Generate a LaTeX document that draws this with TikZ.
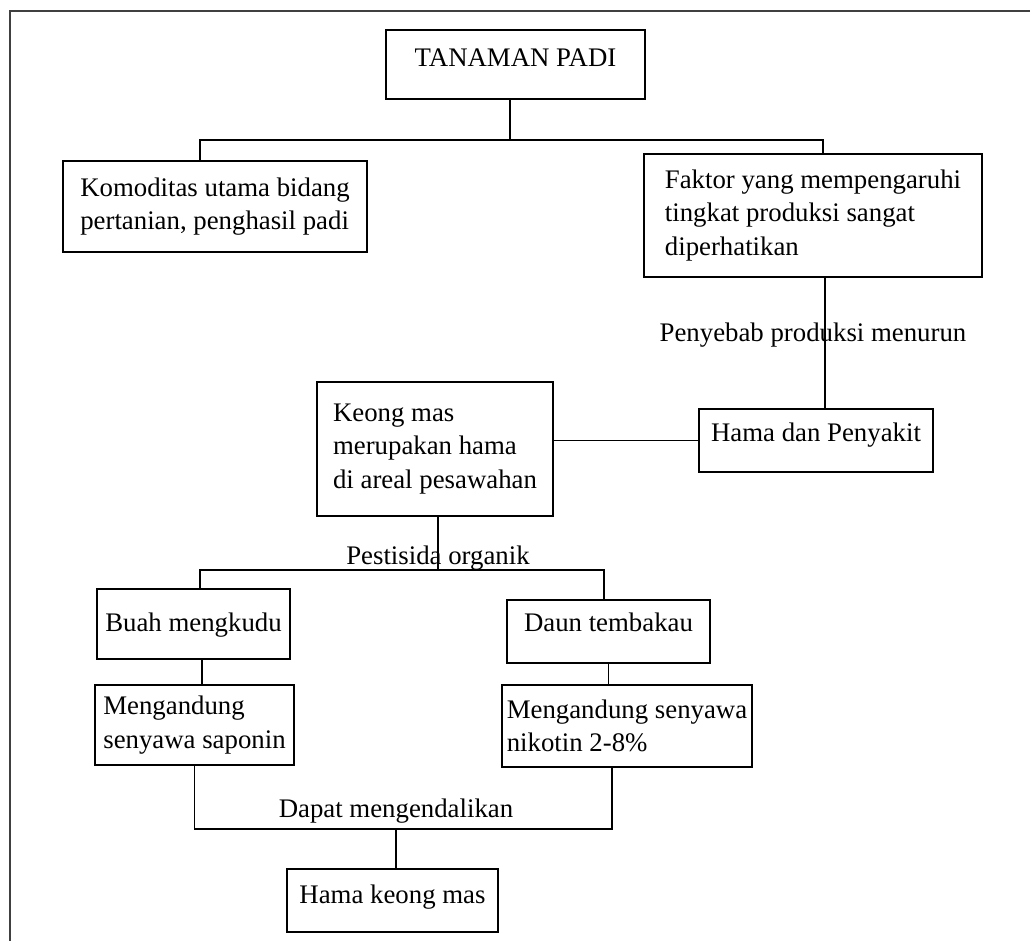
\documentclass[tikz,border=0pt]{standalone}
\usepackage{fontspec}
\setmainfont{Liberation Serif}
\usetikzlibrary{positioning}
\newcommand{\teks}{\fontsize{26.8}{33.5}\selectfont}

\begin{document}
\begin{tikzpicture}[x=1pt, y=-1pt,
    kotak/.style={draw, line width=1.4pt, align=left, inner sep=0pt, font=\teks},
    ket/.style={inner sep=0pt, font=\teks},
    garis/.style={line width=1.2pt},
  ]
  \useasboundingbox (0,0) rectangle (1030,941);
  \draw[black!75, line width=1.6pt] (1030,11) -- (10,11) -- (10,941);

  % kotak-kotak
  \node[kotak, minimum width=259pt, text height=37pt, text depth=32pt] (padi) at (515.5,64.5) {TANAMAN PADI};
  \node[kotak, minimum width=304pt, minimum height=91pt] (komoditas) at (215,206.5) {Komoditas utama bidang\\pertanian, penghasil padi};
  \node[kotak, minimum width=338pt, minimum height=123pt] (faktor) at (813,215.5) {Faktor yang mempengaruhi\\tingkat produksi sangat\\diperhatikan};
  \node[kotak, minimum width=234pt, text height=32pt, text depth=31pt] (hama) at (816,440.5) {Hama dan Penyakit};
  \node[kotak, minimum width=236pt, minimum height=134pt] (keong) at (435,449) {Keong mas\\merupakan hama\\di areal pesawahan};
  \node[kotak, minimum width=193pt, text height=42pt, text depth=28pt] (buah) at (193.5,624) {Buah mengkudu};
  \node[kotak, minimum width=203pt, text height=31pt, text depth=32pt] (daun) at (608.5,631.5) {Daun tembakau};
  \node[kotak, minimum width=199pt, minimum height=80pt] (saponin) at (194.5,725) {Mengandung\\senyawa saponin};
  \node[kotak, minimum width=250pt, minimum height=82pt] (nikotin) at (627,726) {Mengandung senyawa\\nikotin 2-8\%};
  \node[kotak, minimum width=211pt, text height=34pt, text depth=29pt] (sasaran) at (392.5,900.5) {Hama keong mas};

  \coordinate (cabang1) at (510,140);
  \coordinate (cabang2) at (438,570);
  \coordinate (cabang3) at (396,829);

  % garis penghubung
  \draw[garis] (padi.south -| cabang1) -- (cabang1);
  \draw[garis] ([xshift=-15pt]komoditas.north) |- (cabang1) -| ([xshift=10pt]faktor.north);
  \draw[garis] ([xshift=12pt]faktor.south) -- ([xshift=12pt]faktor.south |- hama.north);
  \draw[garis] (hama.west) -- (hama.west -| keong.east);
  \draw[garis] (keong.south -| cabang2) -- (cabang2);
  \draw[garis] ([xshift=6.5pt]buah.north) |- (cabang2) -| ([xshift=-4.5pt]daun.north);
  \draw[garis] ([xshift=8.5pt]buah.south) -- ([xshift=8.5pt]buah.south |- saponin.north);
  \draw[garis] (daun.south) -- (daun.south |- nikotin.north);
  \draw[garis] (saponin.south) |- (cabang3) -| ([xshift=-15pt]nikotin.south);
  \draw[garis] (cabang3) -- (cabang3 |- sasaran.north);

  % keterangan
  \node[ket] (penyebab) at (813,335) {Penyebab produksi menurun};
  \node[ket, above=0pt of cabang2] (pestisida) {Pestisida organik};
  \node[ket, above=6pt of cabang3] (dapat) {Dapat mengendalikan};
\end{tikzpicture}
\end{document}
